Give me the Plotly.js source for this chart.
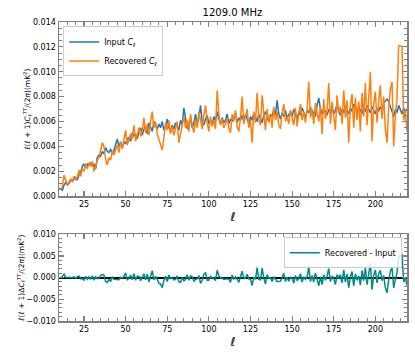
<!DOCTYPE html>
<html>
<head>
<meta charset="utf-8">
<script src="https://cdn.plot.ly/plotly-3.0.1.min.js"></script>
<style>
  body { margin: 0; background: #fff; }
  #myDiv { width: 415px; height: 356px; }
</style>
</head>
<body>
<div id="myDiv"></div>
<script>
// Multipolos
const ell = Array.from({length: 210}, (_, i) => i + 10);

// Espectro de entrada
const inputCl = [
  0.00055, 0.0006, 0.00045, 0.0009, 0.0011, 0.0009, 0.0010, 0.0013, 0.0012, 0.0014,
  0.0015, 0.0013, 0.0017, 0.0019, 0.0024, 0.0026, 0.0023, 0.0026, 0.0025, 0.0027,
  0.0024, 0.0026, 0.0022, 0.0031, 0.0033, 0.0032, 0.0036, 0.0034, 0.0039, 0.0036,
  0.0035, 0.0038, 0.0034, 0.0037, 0.0041, 0.0046, 0.0040, 0.0043, 0.0039, 0.0044,
  0.0042, 0.0046, 0.0047, 0.0044, 0.0051, 0.0048, 0.0050, 0.0046, 0.0052, 0.0055,
  0.0049, 0.0054, 0.0056, 0.0050, 0.0059, 0.0055, 0.0052, 0.0060, 0.0057, 0.0054,
  0.0058, 0.0055, 0.0060, 0.0053, 0.0056, 0.0062, 0.0055, 0.0052, 0.0057, 0.0054,
  0.0059, 0.0056, 0.0053, 0.0061, 0.0057, 0.0071, 0.0060, 0.0054, 0.0058, 0.0062,
  0.0055, 0.0059, 0.0066, 0.0058, 0.0063, 0.0073, 0.0060, 0.0057, 0.0062, 0.0065,
  0.0058, 0.0061, 0.0057, 0.0064, 0.0060, 0.0068, 0.0062, 0.0058, 0.0063, 0.0059,
  0.0061, 0.0066, 0.0058, 0.0062, 0.0060, 0.0064, 0.0067, 0.0059, 0.0063, 0.0061,
  0.0065, 0.0060, 0.0066, 0.0062, 0.0058, 0.0064, 0.0061, 0.0067, 0.0063, 0.0060,
  0.0066, 0.0062, 0.0059, 0.0065, 0.0068, 0.0063, 0.0060, 0.0066, 0.0064, 0.0070,
  0.0065, 0.0077, 0.0066, 0.0062, 0.0067, 0.0064, 0.0069, 0.0063, 0.0066, 0.0068,
  0.0064, 0.0070, 0.0066, 0.0062, 0.0068, 0.0065, 0.0071, 0.0066, 0.0063, 0.0069,
  0.0067, 0.0072, 0.0065, 0.0068, 0.0064, 0.0073, 0.0079, 0.0070, 0.0066, 0.0071,
  0.0068, 0.0065, 0.0070, 0.0067, 0.0072, 0.0066, 0.0069, 0.0074, 0.0068, 0.0065,
  0.0070, 0.0067, 0.0073, 0.0069, 0.0066, 0.0071, 0.0068, 0.0074, 0.0070, 0.0067,
  0.0072, 0.0069, 0.0066, 0.0071, 0.0068, 0.0073, 0.0070, 0.0067, 0.0072, 0.0069,
  0.0066, 0.0071, 0.0068, 0.0072, 0.0069, 0.0075, 0.0077, 0.0078, 0.0076, 0.0072,
  0.0068, 0.0064, 0.0070, 0.0067, 0.0073, 0.0069, 0.0066, 0.0071, 0.0068, 0.0070
];

// Espectro recuperado
const recoveredCl = [
  0.0005, 0.0006, 0.0007, 0.0017, 0.0012, 0.0009, 0.0011, 0.0014, 0.0012, 0.0016,
  0.0013, 0.0015, 0.0021, 0.0016, 0.0022, 0.0020, 0.0026, 0.0022, 0.0027, 0.0024,
  0.0028, 0.0020, 0.0024, 0.0029, 0.0031, 0.0037, 0.0043, 0.0040, 0.0030, 0.0025,
  0.0031, 0.0029, 0.0036, 0.0033, 0.0037, 0.0041, 0.0035, 0.0044, 0.0038, 0.0047,
  0.0053, 0.0041, 0.0045, 0.0050, 0.0046, 0.0057, 0.0044, 0.0049, 0.0055, 0.0048,
  0.0052, 0.0063, 0.0051, 0.0058, 0.0049, 0.0061, 0.0068, 0.0055, 0.0060, 0.0050,
  0.0045, 0.0040, 0.0037, 0.0047, 0.0059, 0.0053, 0.0061, 0.0050, 0.0056, 0.0049,
  0.0055, 0.0060, 0.0043, 0.0050, 0.0058, 0.0064, 0.0055, 0.0061, 0.0052, 0.0066,
  0.0057, 0.0051, 0.0062, 0.0055, 0.0068, 0.0060, 0.0054, 0.0065, 0.0073, 0.0059,
  0.0052, 0.0064, 0.0056, 0.0061, 0.0054, 0.0085, 0.0066, 0.0057, 0.0062, 0.0055,
  0.0058, 0.0063, 0.0055, 0.0051, 0.0066, 0.0060, 0.0069, 0.0056, 0.0052, 0.0063,
  0.0080, 0.0058, 0.0065, 0.0070, 0.0055, 0.0061, 0.0043, 0.0068, 0.0059, 0.0083,
  0.0062, 0.0057, 0.0081, 0.0064, 0.0053, 0.0070, 0.0059, 0.0066, 0.0055, 0.0072,
  0.0061, 0.0068, 0.0057, 0.0054, 0.0067, 0.0074, 0.0060, 0.0064, 0.0058, 0.0069,
  0.0063, 0.0057, 0.0071, 0.0056, 0.0066, 0.0074, 0.0061, 0.0068, 0.0059, 0.0070,
  0.0092, 0.0063, 0.0070, 0.0058, 0.0075, 0.0066, 0.0060, 0.0072, 0.0050, 0.0078,
  0.0062, 0.0069, 0.0091, 0.0058, 0.0076, 0.0064, 0.0053, 0.0081, 0.0067, 0.0072,
  0.0058, 0.0085, 0.0063, 0.0077, 0.0043, 0.0073, 0.0082, 0.0055, 0.0079, 0.0061,
  0.0076, 0.0052, 0.0083, 0.0064, 0.0091, 0.0057, 0.0078, 0.0100, 0.0044, 0.0074,
  0.0084, 0.0059, 0.0077, 0.0089, 0.0062, 0.0080, 0.0054, 0.0043, 0.0071, 0.0086,
  0.0092, 0.0040, 0.0065, 0.0078, 0.0121, 0.0121, 0.0120, 0.0061, 0.0069, 0.0052
];

// Diferencia recuperado - entrada
const diffCl = recoveredCl.map((v, i) => v - inputCl[i]);

const font = 'DejaVu Sans, sans-serif';
const frame = '#808080';

function ejeX(anchor) {
    return {
        anchor: anchor,
        range: [10, 219],
        tick0: 0, dtick: 25,
        ticks: 'inside', ticklen: 5, tickwidth: 1.2, tickcolor: frame,
        minor: {ticks: 'inside', dtick: 5, ticklen: 3, tickcolor: frame, tickwidth: 1},
        showline: true, linecolor: frame, linewidth: 1.5, mirror: 'allticks',
        showgrid: false, zeroline: false,
        tickfont: {size: 8, color: '#000'},
        title: {text: '<i>ℓ</i>', font: {size: 12}, standoff: 4}
    };
}

let traces = [
    {x: ell, y: inputCl, mode: 'lines', name: 'Input <i>C<sub>ℓ</sub></i>',
     line: {color: '#1f77b4', width: 1.5}, xaxis: 'x', yaxis: 'y', legend: 'legend'},
    {x: ell, y: recoveredCl, mode: 'lines', name: 'Recovered <i>C<sub>ℓ</sub></i>',
     line: {color: '#ff7f0e', width: 1.5}, xaxis: 'x', yaxis: 'y', legend: 'legend'},
    {x: ell, y: diffCl, mode: 'lines', name: 'Recovered - Input',
     line: {color: '#008b8b', width: 1.5}, xaxis: 'x2', yaxis: 'y2', legend: 'legend2'}
];

let layout = {
    width: 415, height: 356,
    paper_bgcolor: '#fff', plot_bgcolor: '#fff',
    font: {family: font, color: '#000', size: 8},
    margin: {l: 59, r: 8, t: 22, b: 35, pad: 0},
    title: {text: '1209.0 MHz', font: {size: 10}, x: 0.56, xanchor: 'center',
            y: 0.966, yanchor: 'middle'},
    xaxis: ejeX('y'),
    xaxis2: ejeX('y2'),
    yaxis: {
        domain: [0.4175, 1],
        range: [0, 0.014], dtick: 0.002, tickformat: '.3f',
        ticks: 'inside', ticklen: 5, tickwidth: 1.2, tickcolor: frame,
        minor: {ticks: 'inside', dtick: 0.0005, ticklen: 3, tickcolor: frame, tickwidth: 1},
        showline: true, linecolor: frame, linewidth: 1.5, mirror: 'allticks',
        showgrid: false, zeroline: false,
        tickfont: {size: 8},
        title: {text: '<i>ℓ</i>(<i>ℓ</i> + 1)<i>C<sub>ℓ</sub><sup>TT</sup></i>/(2<i>π</i>)(mK<sup>2</sup>)',
                font: {size: 7.5}, standoff: 0}
    },
    yaxis2: {
        domain: [0, 0.29],
        range: [-0.010, 0.010], dtick: 0.005, tickformat: '.3f',
        ticks: 'inside', ticklen: 5, tickwidth: 1.2, tickcolor: frame,
        minor: {ticks: 'inside', dtick: 0.001, ticklen: 3, tickcolor: frame, tickwidth: 1},
        showline: true, linecolor: frame, linewidth: 1.5, mirror: 'allticks',
        showgrid: false, zeroline: true, zerolinecolor: '#000', zerolinewidth: 1.8,
        tickfont: {size: 8},
        title: {text: '<i>ℓ</i>(<i>ℓ</i> + 1)Δ<i>C<sub>ℓ</sub><sup>TT</sup></i>/(2<i>π</i>)(mK<sup>2</sup>)',
                font: {size: 7.5}, standoff: 0}
    },
    legend: {
        x: 0.012, y: 0.985, xanchor: 'left', yanchor: 'top',
        bgcolor: 'rgba(255,255,255,0.8)', bordercolor: '#ccc', borderwidth: 1,
        font: {size: 8}, tracegroupgap: 0, itemwidth: 30
    },
    legend2: {
        x: 0.985, y: 0.28, xanchor: 'right', yanchor: 'top',
        bgcolor: 'rgba(255,255,255,0.8)', bordercolor: '#ccc', borderwidth: 1,
        font: {size: 8}, itemwidth: 30
    },
    showlegend: true
};

Plotly.newPlot('myDiv', traces, layout, {displayModeBar: false, staticPlot: true});
</script>
</body>
</html>
